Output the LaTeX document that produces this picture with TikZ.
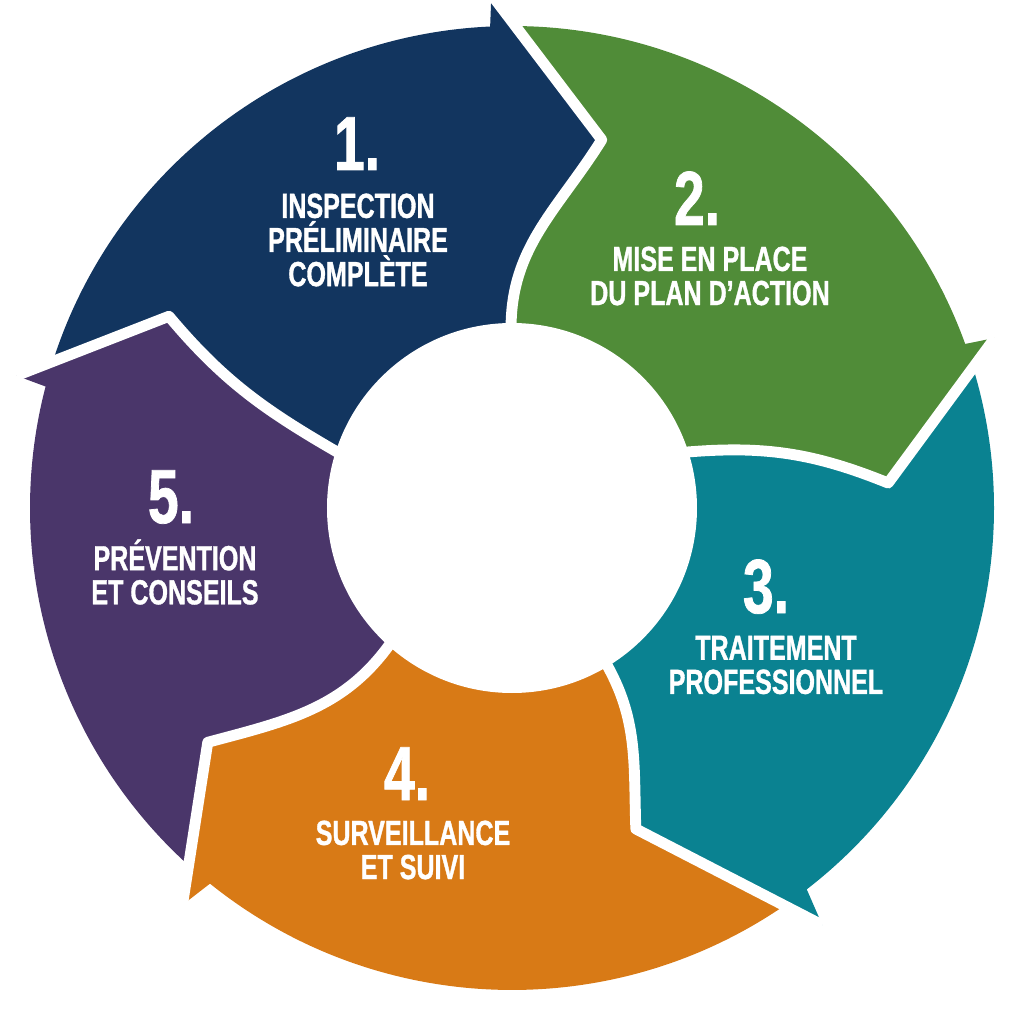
\documentclass[tikz,border=0pt]{standalone}
\usepackage{fontspec}
\newfontfamily\stepfont[FakeStretch=0.72,FakeBold=1]{Liberation Sans Bold}
\usepackage{xcolor}
\definecolor{navy}{RGB}{18,53,95}
\definecolor{leaf}{RGB}{80,140,56}
\definecolor{teal}{RGB}{10,130,145}
\definecolor{amber}{RGB}{216,122,22}
\definecolor{plum}{RGB}{74,54,106}

\begin{document}
\begin{tikzpicture}[x=0.01cm,y=0.01cm,
  gap/.style={draw=white,line width=3.1pt,line join=round},
  num/.style={text=white,font=\stepfont\fontsize{21.8}{22}\selectfont,inner sep=0pt,anchor=base},
  lbl/.style={text=white,font=\stepfont\fontsize{9.9}{9.7}\selectfont,align=center,inner sep=0pt}]
\useasboundingbox (-512,-516) rectangle (512,508);
% arrow heads: barb, tip, foot on the ring, start of the next arc
\coordinate (barb1) at (92.3:514);
\coordinate (tip1) at (76.3:379);
\coordinate (foot1) at (90.3:180);
\coordinate (start2) at (89.6:482);
\coordinate (barb2) at (19.4:512);
\coordinate (tip2) at (3.8:377);
\coordinate (foot2) at (18:180);
\coordinate (start3) at (16.9:482);
\coordinate (barb3) at (-53.35:520);
\coordinate (tip3) at (-68.9:344);
\coordinate (foot3) at (-58.8:180);
\coordinate (start4) at (-55.6:482);
\coordinate (barb4) at (-129.7:516);
\coordinate (tip4) at (-142.4:384);
\coordinate (foot4) at (-132:180);
\coordinate (start5) at (-132.1:482);
\coordinate (barb5) at (165.05:513);
\coordinate (tip5) at (150.8:393);
\coordinate (foot5) at (162.5:180);
\coordinate (start1) at (162.3:482);
% the five arrows
\fill[navy] (start1) arc[start angle=162.3,end angle=92.6,radius=482] -- (barb1) -- (tip1)
  to[out=238,in=90] (foot1) arc[start angle=90.3,end angle=162.5,radius=180] to[out=150,in=-50] (tip5) -- cycle;
\fill[leaf] (start2) arc[start angle=89.6,end angle=19.9,radius=482] -- (barb2) -- (tip2)
  to[out=158,in=5] (foot2) arc[start angle=18,end angle=90.3,radius=180] to[out=90,in=238] (tip1) -- cycle;
\fill[teal] (start3) arc[start angle=16.9,end angle=-52.3,radius=482] -- (barb3) -- (tip3)
  to[out=92,in=-60] (foot3) arc[start angle=-58.8,end angle=18,radius=180] to[out=5,in=158] (tip2) -- cycle;
\fill[amber] (start4) arc[start angle=-55.6,end angle=-128.8,radius=482] -- (barb4) -- (tip4)
  to[out=15,in=-125] (foot4) arc[start angle=-132,end angle=-58.8,radius=180] to[out=-60,in=92] (tip3) -- cycle;
\fill[plum] (start5) arc[start angle=-132.1,end angle=-194.6,radius=482] -- (barb5) -- (tip5)
  to[out=-50,in=150] (foot5) arc[start angle=162.5,end angle=228,radius=180] to[out=-125,in=15] (tip4) -- cycle;
% white gaps between the arrows
\draw[gap] (foot1) to[out=90,in=238] (tip1) -- (barb1);
\draw[gap] (foot2) to[out=5,in=158] (tip2) -- (barb2);
\draw[gap] (foot3) to[out=-60,in=92] (tip3) -- (barb3);
\draw[gap] (foot4) to[out=-125,in=15] (tip4) -- (barb4);
\draw[gap] (foot5) to[out=150,in=-50] (tip5) -- (barb5);
\fill[white] (0,0) circle[radius=185];
% labels
\node[num] (n1) at (-155,338) {1.};
\node[lbl] (t1) at (-154,268) {INSPECTION\\PRÉLIMINAIRE\\COMPLÈTE};
\node[num] (n2) at (185,283) {2.};
\node[lbl] (t2) at (198,232) {MISE EN PLACE\\DU PLAN D’ACTION};
\node[num] (n3) at (254,-105) {3.};
\node[lbl] (t3) at (264,-157) {TRAITEMENT\\PROFESSIONNEL};
\node[num] (n4) at (-105,-292) {4.};
\node[lbl] (t4) at (-99,-342) {SURVEILLANCE\\ET SUIVI};
\node[num] (n5) at (-341,-15) {5.};
\node[lbl] (t5) at (-337,-64) {PRÉVENTION\\ET CONSEILS};
\end{tikzpicture}
\end{document}
